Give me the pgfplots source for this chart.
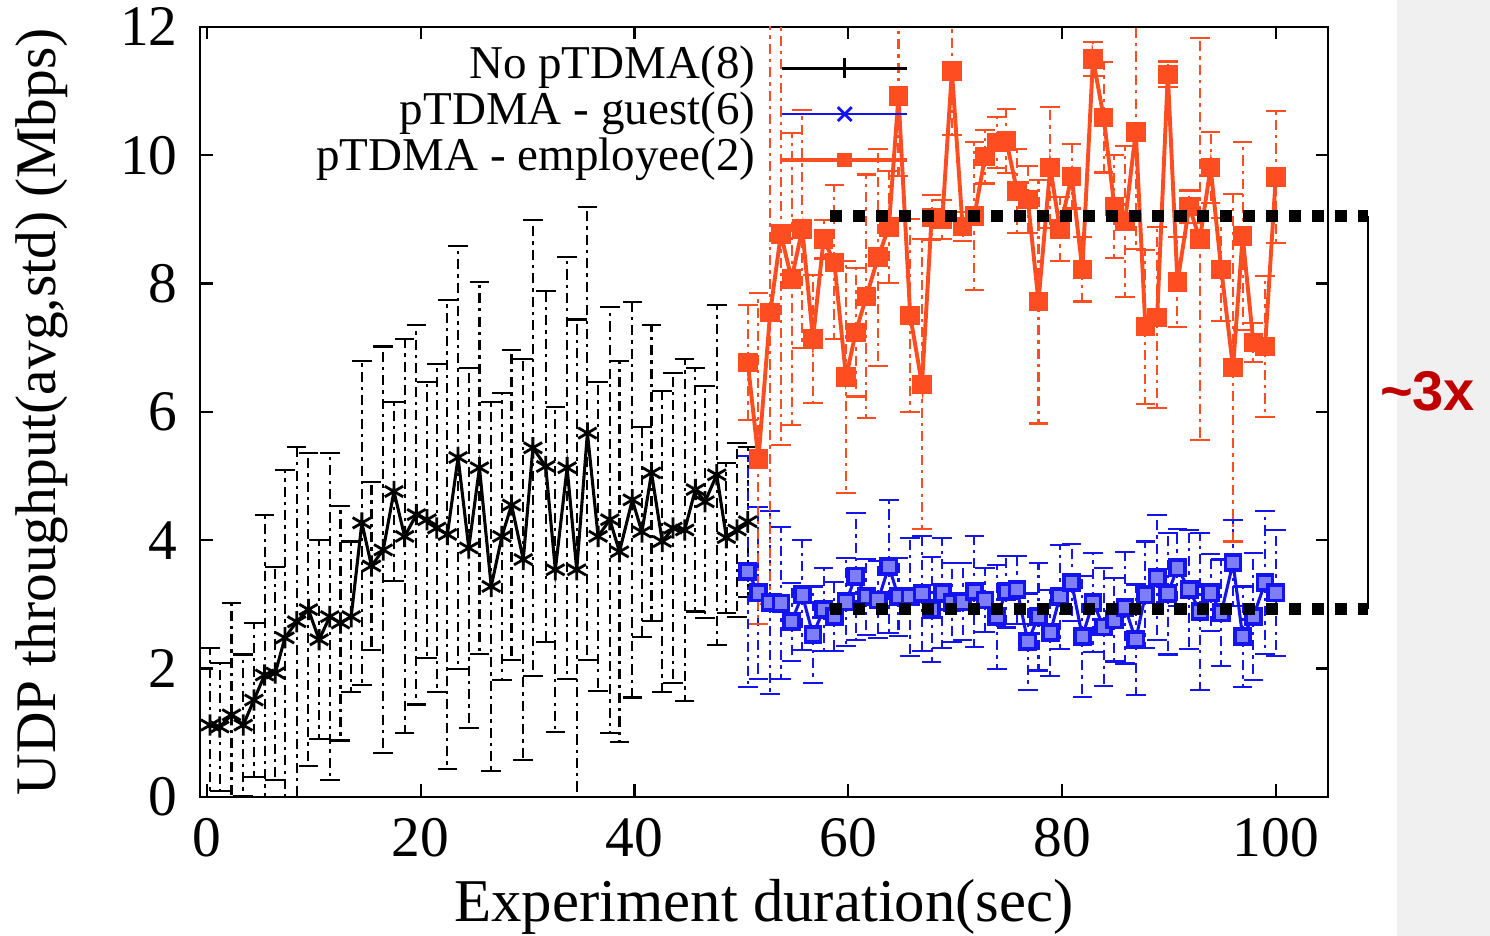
\documentclass[border=0pt]{standalone}
\usepackage{fontspec}
\setmainfont{Liberation Serif}
\newfontfamily\annfont{Liberation Sans}
\usepackage{pgfplots}
\usepackage{pgfplotstable}
\pgfplotsset{compat=1.18}
\definecolor{emp}{RGB}{255,77,34}
\definecolor{guest}{RGB}{20,20,240}
\definecolor{annred}{RGB}{192,0,0}

% no pTDMA: mean and std
\pgfplotstableread{
x y e
0.3 1.12 1.20
1.2 1.09 1.00
2.3 1.28 1.74
3.4 1.12 1.10
4.4 1.51 1.20
5.4 1.90 2.50
6.4 1.93 1.66
7.3 2.48 2.62
8.4 2.73 2.73
9.5 2.92 2.44
10.5 2.45 1.55
11.5 2.81 2.55
12.5 2.71 1.83
13.5 2.81 1.17
14.5 4.27 2.52
15.4 3.60 1.31
16.5 3.85 3.17
17.5 4.76 1.40
18.5 4.06 3.07
19.6 4.40 2.96
20.6 4.32 2.15
21.5 4.19 2.55
22.5 4.09 3.66
23.5 5.29 3.29
24.5 3.88 2.81
25.5 5.13 2.90
26.6 3.28 2.87
27.6 4.06 2.24
28.5 4.55 2.42
29.6 3.70 3.13
30.5 5.44 3.55
31.7 5.15 2.74
32.6 3.54 2.53
33.7 5.13 3.29
34.6 3.54 3.90
35.6 5.67 3.53
36.6 4.06 2.41
37.7 4.32 3.32
38.6 3.82 2.97
39.8 4.63 3.08
40.7 4.13 1.64
41.6 5.05 2.31
42.6 3.98 2.35
43.6 4.19 2.42
44.7 4.16 2.67
45.7 4.79 1.90
46.6 4.60 1.81
47.7 5.02 2.65
48.6 4.04 1.17
49.6 4.16 1.36
50.6 4.29 1.17
}\nopt

% pTDMA guest
\pgfplotstableread{
x y e
50.6 3.51 1.80
51.6 3.18 1.34
52.7 3.03 1.42
53.7 3.02 1.18
54.7 2.73 0.61
55.7 3.15 0.86
56.7 2.53 0.75
57.7 2.92 0.65
58.7 2.81 0.54
59.8 3.04 0.69
60.7 3.44 0.99
61.7 3.12 0.59
62.8 3.07 0.60
63.8 3.59 1.04
64.7 3.12 0.61
65.8 3.12 0.92
66.9 3.17 0.89
67.8 2.92 0.82
68.8 3.18 0.86
69.7 3.03 0.62
70.7 3.04 0.60
71.8 3.20 0.86
72.8 3.07 0.50
73.9 2.81 0.81
74.8 3.20 0.56
75.8 3.23 0.53
76.8 2.42 0.75
77.8 2.81 0.84
78.9 2.56 0.67
79.8 3.12 0.81
80.9 3.34 0.60
81.9 2.50 0.94
82.9 3.03 0.77
83.9 2.65 0.92
84.9 2.76 0.65
85.9 2.95 0.87
86.9 2.45 0.86
87.8 3.15 0.83
88.9 3.42 0.98
89.9 3.17 0.95
90.8 3.57 0.60
91.9 3.23 0.93
92.9 2.89 1.23
93.9 3.18 0.60
94.9 2.87 0.83
96.0 3.65 0.67
96.9 2.50 0.78
97.9 2.81 0.99
99.0 3.34 1.11
100.0 3.18 0.98
}\guest

% pTDMA employee
\pgfplotstableread{
x y e
50.6 6.77 0.90
51.6 5.27 2.58
52.7 7.55 4.55
53.7 8.77 3.28
54.7 8.07 2.27
55.7 8.85 1.86
56.7 7.14 1.00
57.7 8.69 0.30
58.7 8.33 1.20
59.8 6.54 1.81
60.7 7.24 1.00
61.7 7.80 1.90
62.8 8.41 1.69
63.8 8.88 0.87
64.7 10.92 1.25
65.8 7.50 1.50
66.9 6.43 2.26
67.8 9.03 0.35
68.8 9.00 0.30
69.7 11.31 1.00
70.7 8.89 0.22
71.8 9.05 1.15
72.8 9.98 0.42
73.9 10.20 0.40
74.8 10.22 0.50
75.8 9.44 0.65
76.8 9.31 0.52
77.8 7.72 1.90
78.9 9.81 0.94
79.8 8.85 0.50
80.9 9.67 0.50
81.9 8.22 0.50
82.9 11.50 0.26
83.9 10.59 0.86
84.9 9.20 0.80
85.9 8.97 1.18
86.9 10.36 1.82
87.8 7.33 1.20
88.9 7.47 1.41
89.9 11.26 0.20
90.8 8.02 0.70
91.9 9.20 0.25
92.9 8.69 3.13
93.9 9.81 0.55
94.9 8.22 0.80
96.0 6.69 2.71
96.9 8.74 1.46
97.9 7.08 0.30
99.0 7.02 1.10
100.0 9.66 1.03
}\emp

\begin{document}
\begin{tikzpicture}
\path[use as bounding box] (-71.4pt,-49.6pt) rectangle (460.7pt,284.6pt);
\fill[black!6] (427.5pt,-49.6pt) rectangle (460.7pt,284.6pt);
\begin{axis}[
  scale only axis,
  width=402.9pt, height=275pt,
  xmin=-0.65, xmax=104.9,
  ymin=0, ymax=12,
  xtick={0,20,...,100},
  ytick={0,2,...,12},
  tick align=inside,
  major tick length=4.5pt,
  axis line style={line width=0.8pt},
  tick style={line width=0.8pt, black},
  font=\fontsize{20.5}{24}\selectfont,
  /pgf/number format/assume math mode=true,
  xticklabel style={yshift=-4pt},
  yticklabel style={xshift=-4.5pt},
  xlabel={Experiment duration(sec)},
  ylabel={UDP throughput(avg,std) (Mbps)},
  xlabel style={at={(axis description cs:0.5,-0.162)}, anchor=base,
    font=\fontsize{21.7}{24}\selectfont},
  ylabel style={at={(axis description cs:-0.14,0.5)}, anchor=center},
  legend plot pos=right,
  legend cell align=right,
  legend style={at={(rel axis cs:0.629,0.977)}, anchor=north east,
    draw=none, fill=none, inner sep=0pt, row sep=0pt, column sep=7pt,
    nodes={inner ysep=0pt, text height=12pt, text depth=4.4pt},
    font=\fontsize{16.8}{20}\selectfont},
  legend image code/.code={\draw[mark repeat=2,mark phase=2]
    plot coordinates {(0pt,0pt)(22.3pt,0pt)(44.6pt,0pt)};},
  error bars/y dir=both,
  error bars/y explicit,
  error bars/error bar style={line width=0.75pt,
    dash pattern=on 3.6pt off 1.8pt on 1.2pt off 1.8pt},
  error bars/error mark options={solid, rotate=90, line width=0.75pt, mark size=3.5pt},
]
\addlegendimage{black, line width=1pt, mark=+, mark size=3.5pt}
\addlegendentry{No pTDMA(8)}
\addlegendimage{guest, line width=1pt, mark=x, mark size=3.5pt}
\addlegendentry{pTDMA - guest(6)}
\addlegendimage{emp, line width=1.3pt, mark=square*, mark size=2pt}
\addlegendentry{pTDMA - employee(2)}

\addplot[black, line width=1.1pt, mark=asterisk, mark size=3.8pt, forget plot,
  mark options={line width=1pt}]
  table[x=x, y=y, y error=e] {\nopt};
\addplot[guest, line width=1.1pt, mark=square*, mark size=2.7pt,
  mark options={line width=1.3pt, fill=guest!55}, forget plot]
  table[x=x, y=y, y error=e] {\guest};
\addplot[emp, line width=1.4pt, mark=square*, mark size=2.8pt, forget plot]
  table[x=x, y=y, y error=e] {\emp};

\coordinate (t1) at (axis cs:58.3,9.05);
\coordinate (t2) at (axis cs:108.6,9.05);
\coordinate (b1) at (axis cs:58.3,2.93);
\coordinate (b2) at (axis cs:108.6,2.93);
\coordinate (lab) at (axis cs:114.2,6.32);
\end{axis}
\draw[line width=4.3pt, dash pattern=on 4.3pt off 3.9pt] (t1) -- (t2);
\draw[line width=4.3pt, dash pattern=on 4.3pt off 3.9pt] (b1) -- (b2);
\draw[line width=0.7pt] (t2) -- (b2);
\node[text=annred, font=\annfont\bfseries\fontsize{20}{24}\selectfont] at (lab) {\textasciitilde 3x};
\end{tikzpicture}
\end{document}
